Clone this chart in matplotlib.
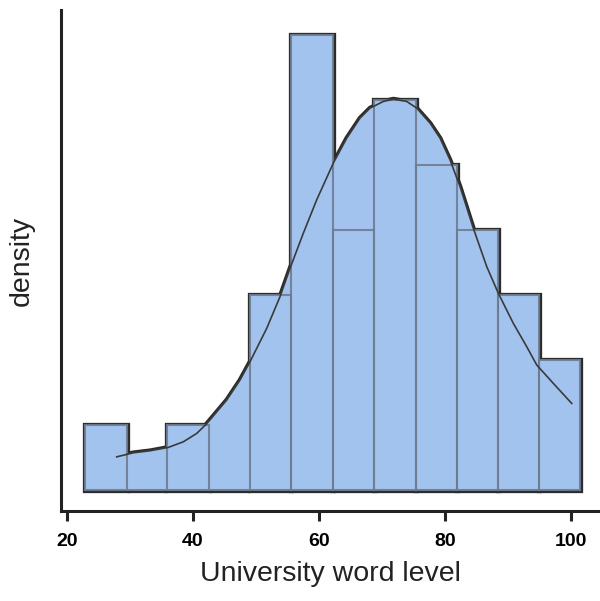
import numpy as np
import matplotlib.pyplot as plt

plt.rcParams['font.family'] = ['Liberation Sans', 'DejaVu Sans']

# histogram
bin_edges = [22.86, 29.52, 35.87, 42.54, 49.05, 55.56, 62.22, 68.73, 75.40,
             81.90, 88.41, 94.92, 101.43]
counts = [1, 0, 1, 0, 3, 7, 4, 6, 5, 4, 3, 2]

# density curve (same units as counts)
kde_x = [27.89, 30.52, 33.17, 36.08, 38.46, 40.59, 42.17, 45.35, 47.46, 49.05,
         51.70, 53.81, 55.40, 57.51, 59.63, 62.27, 64.40, 66.51, 68.10, 70.21,
         71.81, 73.92, 75.51, 77.62, 79.21, 80.79, 82.38, 84.49, 86.62, 88.46,
         90.84, 92.97, 94.56, 97.19, 100.11]
kde_y = [0.512, 0.574, 0.605, 0.657, 0.743, 0.872, 1.02, 1.385, 1.692, 1.974,
         2.487, 2.974, 3.410, 3.949, 4.462, 5.026, 5.410, 5.718, 5.872, 5.974,
         6.01, 5.974, 5.872, 5.641, 5.410, 5.077, 4.667, 4.026, 3.436, 3.026,
         2.564, 2.205, 1.923, 1.641, 1.333]

fill = '#a3c3ef'
inner = '#6e7c90'
dark = '#2b2b2b'

fig = plt.figure(figsize=(6, 6.01), dpi=100)
ax = fig.add_axes([0.1017, 0.1498, 0.8983, 0.8336])

edges = np.array(bin_edges)
widths = np.diff(edges)
kx = np.concatenate([[kde_x[0]], kde_x, [kde_x[-1]]])
ky = np.concatenate([[0], kde_y, [0]])

# 1. thick dark outline of bars and curve area
ax.bar(edges[:-1], counts, width=widths, align='edge', color='none',
       edgecolor=dark, linewidth=3.8, zorder=1)
ax.fill(kx, ky, facecolor='none', edgecolor=dark, linewidth=3.4,
        joinstyle='round', zorder=1)
# 2. fills on top, leaving only the outer half of the outline
ax.bar(edges[:-1], counts, width=widths, align='edge', color=fill,
       linewidth=0, zorder=2)
ax.fill(kx, ky, facecolor=fill, edgecolor='none', zorder=2)
# 3. inner bar edges and the curve
ax.bar(edges[:-1], counts, width=widths, align='edge', color='none',
       edgecolor=inner, linewidth=1.5, alpha=0.9, zorder=3)
ax.plot(kde_x, kde_y, color='#3a3a3a', linewidth=1.2, zorder=4)

ax.set_xlim(19.05, 104.6)
ax.set_ylim(-0.32, 7.38)
ax.set_yticks([])
ax.set_xticks([20, 40, 60, 80, 100])

for s in ['top', 'right']:
    ax.spines[s].set_visible(False)
for s in ['left', 'bottom']:
    ax.spines[s].set_linewidth(2.2)
    ax.spines[s].set_color('#222222')

ax.tick_params(axis='x', length=7, width=2.2, color='#222222', pad=9,
               labelsize=14)
for lab in ax.get_xticklabels():
    lab.set_fontweight('bold')

ax.set_xlabel('University word level', fontsize=20.5, labelpad=8, color='#222222')
ax.set_ylabel('density', fontsize=20.5, labelpad=19, color='#222222')

fig.savefig('out.png', dpi=100)
